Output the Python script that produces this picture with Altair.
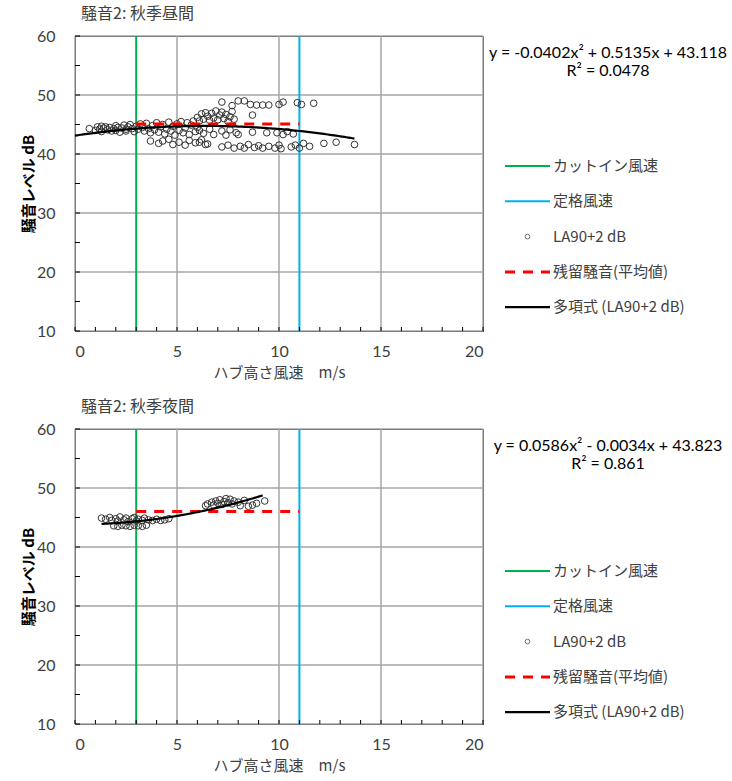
import altair as alt
import pandas as pd

FONT_NUM = "Lato, 'Noto Sans CJK JP', sans-serif"
FONT_JP = "'Noto Sans CJK JP', sans-serif"

# ---------------- data ----------------
TITLES = ["騒音2: 秋季昼間", "騒音2: 秋季夜間"]
X_TITLE = "ハブ高さ風速　m/s"
Y_TITLE = "騒音レベル dB"
LEGEND_LABELS = ["カットイン風速", "定格風速", "LA90+2 dB", "残留騒音(平均値)", "多項式 (LA90+2 dB)"]

CUT_IN = 3
RATED = 11

X_TICKS = [0, 5, 10, 15, 20]
Y_TICKS = [10, 20, 30, 40, 50, 60]
X_MINOR = list(range(0, 21))
Y_MINOR = [10, 15, 20, 25, 30, 35, 40, 45, 50, 55, 60]

# Day (昼間)
DAY_WS = [0.7, 1.0, 1.1, 1.2, 1.3, 1.3, 1.4, 1.5, 1.6, 1.7, 1.8, 1.9, 2.0, 2.0, 2.1, 2.2, 2.3, 2.4, 2.5, 2.5,
          2.6, 2.7, 2.8, 2.9, 3.0, 3.1, 3.2,
          3.3, 3.4, 3.5, 3.6, 3.7, 3.8, 3.9, 4.0, 4.1, 4.2, 4.3, 4.4, 4.5, 4.6, 4.7, 4.8, 4.9, 5.0, 5.1, 5.2,
          5.3, 5.4, 5.5, 5.6, 5.7, 5.8, 5.9, 6.0,
          3.7, 4.1, 4.3, 4.6, 4.8, 5.1, 5.4, 5.6, 5.9, 6.2, 6.4,
          6.0, 6.1, 6.2, 6.3, 6.4, 6.5, 6.6, 6.7, 6.8, 6.9, 7.0, 7.1, 7.2, 7.3, 7.4, 7.5, 7.6, 7.7, 7.8, 8.7,
          6.1, 6.3, 6.6, 6.8, 7.2, 7.4, 7.6, 7.9, 8.0, 8.7,
          6.1, 6.5,
          7.2, 7.7, 8.0, 8.3, 8.6, 8.9, 9.2, 9.5, 10.0, 10.2, 10.9, 11.1, 11.7,
          9.4, 9.9, 10.2, 10.4, 10.7,
          7.2, 7.5, 7.8, 8.1, 8.3, 8.5, 8.8, 9.0, 9.2, 9.5, 9.8, 10.0, 10.1, 10.6, 10.8, 11.0, 11.2, 11.5,
          12.2, 12.8, 13.7]
DAY_LA = [44.3, 44.0, 44.6, 44.2, 44.7, 43.8, 44.4, 44.6, 44.1, 44.5, 43.9, 44.3, 44.8, 44.0, 44.5, 43.7, 44.4,
          44.9, 44.2, 43.9, 44.6, 45.0, 44.3, 43.8, 44.7, 44.2, 45.1,
          44.5, 43.9, 45.2, 44.3, 43.6, 44.8, 44.1, 45.3, 43.7, 44.6, 45.0, 43.4, 44.2, 45.4, 43.9, 44.7, 43.2,
          45.1, 44.0, 45.5, 43.6, 44.4, 45.3, 43.3, 44.9, 45.6, 43.8, 44.5,
          42.2, 41.8, 42.2, 42.5, 41.6, 42.0, 41.5, 42.3, 41.9, 42.4, 41.6,
          46.2, 45.6, 46.8, 45.9, 47.0, 46.4, 45.7, 46.9, 46.1, 47.3, 45.8, 46.6, 47.1, 46.0, 46.7, 45.5, 46.3,
          47.2, 45.9, 46.6,
          44.0, 43.5, 44.2, 43.3, 43.9, 43.2, 44.1, 43.6, 43.3, 43.7,
          42.0, 41.7,
          48.8, 48.2, 49.0, 49.0, 48.4, 48.3, 48.3, 48.3, 48.4, 48.8, 48.7, 48.4, 48.6,
          43.6, 43.6, 43.3, 43.8, 43.4,
          41.2, 41.5, 41.0, 41.3, 41.0, 41.6, 41.1, 41.4, 41.0, 41.3, 41.0, 41.5, 40.9, 41.2, 41.5, 41.0, 41.8,
          41.3, 41.8, 42.0, 41.6]

# Night (夜間)
NIGHT_WS = [1.9, 2.1, 2.3, 2.5, 2.7, 2.9, 3.1, 3.3, 3.5,
            1.3, 1.5, 1.7, 1.8, 2.0, 2.1, 2.2, 2.4, 2.5, 2.6, 2.8, 2.9, 3.0, 3.1, 3.3, 3.4, 3.6, 3.8, 4.0,
            4.2, 4.4, 4.6,
            6.4, 6.5, 6.7, 6.8, 6.9, 7.0, 7.1, 7.2, 7.3, 7.4, 7.5, 7.6, 7.7, 7.8, 8.0, 8.1, 8.3, 8.5, 8.7,
            8.9, 9.3]
NIGHT_LA = [43.6, 43.5, 43.7, 43.6, 43.5, 43.7, 43.6, 43.5, 43.7,
            44.9, 44.7, 45.0, 44.5, 44.8, 44.4, 45.1, 44.6, 44.9, 44.3, 44.8, 45.0, 44.4, 44.7, 44.5, 44.9,
            44.6, 44.5, 44.7, 44.5, 44.6, 44.8,
            47.0, 47.3, 47.6, 47.1, 47.8, 47.4, 48.0, 47.2, 47.7, 48.2, 47.5, 48.1, 47.3, 47.8, 47.6, 47.0,
            47.9, 46.9, 47.1, 47.4, 47.8]

# polynomial trendline coefficients (a, b, c) shown in the chart, and fit range
DAY_COEF = [-0.0402, 0.5135, 43.118]
NIGHT_COEF = [0.0586, -0.0034, 43.823]
DAY_FIT = [0.0, 13.7]
NIGHT_FIT = [1.3, 9.2]

DAY_EQ = ["y = -0.0402x² + 0.5135x + 43.118", "R² = 0.0478"]
NIGHT_EQ = ["y = 0.0586x² - 0.0034x + 43.823", "R² = 0.861"]

DAY_MEAN = 45.1
NIGHT_MEAN = 46.0
MEAN_RANGE = [3, 11]

W, H = 408, 295

GREEN = "#00B050"
BLUE = "#00B0F0"
RED = "#FF0000"
GRID = "#A6A6A6"
TXT = "#404040"


def panel(title, ws, la, coef, fit, mean_val, eq, leg_y0):
    xs = alt.Scale(domain=[0, 20], nice=False, zero=False)
    ys = alt.Scale(domain=[10, 60], nice=False, zero=False)

    grid_x = alt.Chart(pd.DataFrame({"v": X_TICKS})).mark_rule(color=GRID, strokeWidth=1.5).encode(
        x=alt.X("v:Q", scale=xs, title=X_TITLE,
                axis=alt.Axis(values=X_TICKS, grid=False, ticks=False, tickSize=0, domain=False,
                              labelFont=FONT_NUM, labelFontSize=16, labelColor=TXT, labelPadding=12,
                              titleFont=FONT_JP, titleFontSize=15, titleColor=TXT, titleFontWeight="normal",
                              titlePadding=6))
    )
    grid_y = alt.Chart(pd.DataFrame({"v": Y_TICKS})).mark_rule(color=GRID, strokeWidth=1.5).encode(
        y=alt.Y("v:Q", scale=ys, title=Y_TITLE,
                axis=alt.Axis(values=Y_TICKS, grid=False, ticks=False, tickSize=0, domain=False,
                              labelFont=FONT_NUM, labelFontSize=16, labelColor=TXT, labelPadding=20,
                              titleFont=FONT_JP, titleFontSize=15, titleColor="#000000", titleFontWeight="bold",
                              titlePadding=0))
    )
    tick_x = alt.Chart(pd.DataFrame({"v": X_MINOR})).mark_rule(color="#000000", strokeWidth=1).encode(
        x=alt.X("v:Q", scale=xs), y=alt.value(H), y2=alt.value(H - 4))
    tick_y = alt.Chart(pd.DataFrame({"v": Y_MINOR})).mark_rule(color="#000000", strokeWidth=1).encode(
        y=alt.Y("v:Q", scale=ys), x=alt.value(0), x2=alt.value(5))

    cut = alt.Chart(pd.DataFrame({"v": [CUT_IN]})).mark_rule(color=GREEN, strokeWidth=2).encode(
        x=alt.X("v:Q", scale=xs))
    rated = alt.Chart(pd.DataFrame({"v": [RATED]})).mark_rule(color=BLUE, strokeWidth=2).encode(
        x=alt.X("v:Q", scale=xs))

    pts = alt.Chart(pd.DataFrame({"ws": ws, "la": la})).mark_point(
        shape="circle", filled=False, size=44, color="#333333", strokeWidth=1, opacity=1).encode(
        x=alt.X("ws:Q", scale=xs), y=alt.Y("la:Q", scale=ys))

    mean = alt.Chart(pd.DataFrame({"x1": [MEAN_RANGE[0]], "x2": [MEAN_RANGE[1]], "y": [mean_val]})).mark_rule(
        color=RED, strokeWidth=3, strokeDash=[10, 8]).encode(
        x=alt.X("x1:Q", scale=xs), x2="x2:Q", y=alt.Y("y:Q", scale=ys))

    a, b, c = coef
    trend = alt.Chart(alt.sequence(fit[0], fit[1] + 0.001, 0.1, as_="x")).transform_calculate(
        y=f"{a}*datum.x*datum.x + {b}*datum.x + {c}").mark_line(color="#000000", strokeWidth=2.2).encode(
        x=alt.X("x:Q", scale=xs), y=alt.Y("y:Q", scale=ys))

    # equation text
    eq_layers = []
    for i, line in enumerate(eq):
        eq_layers.append(alt.Chart(pd.DataFrame({"t": [line]})).mark_text(
            font=FONT_NUM, fontSize=16, color="#000000", align="center", baseline="middle").encode(
            text="t:N", x=alt.value(533), y=alt.value(17 + i * 18)))

    # legend
    leg = []
    lx0, lx1, ltx = 430, 475, 478
    step = 35.3
    styles = [
        dict(color=GREEN, strokeWidth=2),
        dict(color=BLUE, strokeWidth=2),
        None,
        dict(color=RED, strokeWidth=3, strokeDash=[10, 8]),
        dict(color="#000000", strokeWidth=2.2),
    ]
    for i, lab in enumerate(LEGEND_LABELS):
        yy = leg_y0 + i * step
        if styles[i] is None:
            leg.append(alt.Chart(pd.DataFrame({"t": [lab]})).mark_point(
                shape="circle", filled=False, size=22, color="#333333", strokeWidth=1).encode(
                x=alt.value((lx0 + lx1) / 2), y=alt.value(yy)))
        else:
            leg.append(alt.Chart(pd.DataFrame({"t": [lab]})).mark_rule(**styles[i]).encode(
                x=alt.value(lx0), x2=alt.value(lx1), y=alt.value(yy)))
        leg.append(alt.Chart(pd.DataFrame({"t": [lab]})).mark_text(
            font=FONT_JP, fontSize=15, color=TXT, align="left", baseline="middle").encode(
            text="t:N", x=alt.value(ltx), y=alt.value(yy)))

    return alt.layer(grid_x, grid_y, cut, rated, pts, mean, trend, tick_x, tick_y, *eq_layers, *leg).properties(
        width=W, height=H,
        title=alt.TitleParams(title, anchor="start", frame="group", dx=6, font=FONT_JP, fontSize=16,
                              color=TXT, fontWeight="normal", offset=6))


top = panel(TITLES[0], DAY_WS, DAY_LA, DAY_COEF, DAY_FIT, DAY_MEAN, DAY_EQ, 130)
bottom = panel(TITLES[1], NIGHT_WS, NIGHT_LA, NIGHT_COEF, NIGHT_FIT, NIGHT_MEAN, NIGHT_EQ, 142)

chart = alt.vconcat(top, bottom, spacing=17).properties(
    padding={"left": 20, "top": 5, "right": 0, "bottom": 0},
    background="white",
).configure_view(stroke="#000000", strokeWidth=1)

chart.save("out.html", embed_options={"renderer": "svg", "actions": False})
